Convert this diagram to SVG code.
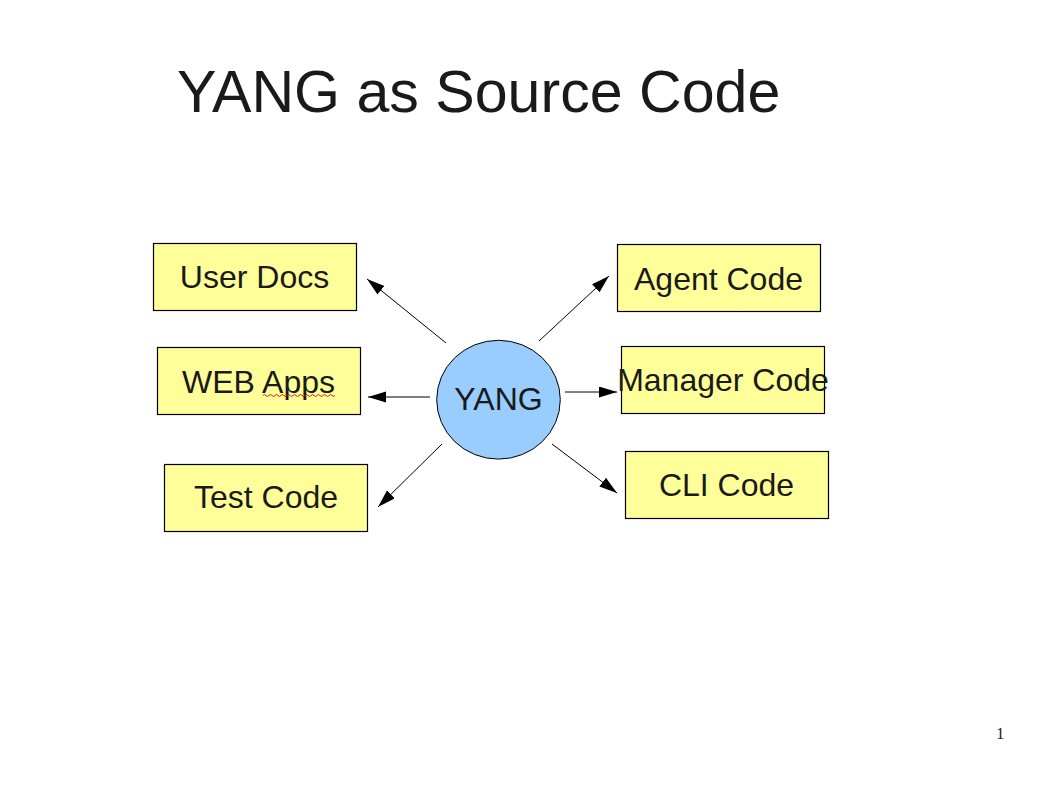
<svg xmlns="http://www.w3.org/2000/svg" width="1058" height="794" viewBox="0 0 1058 794">
<defs>
<style>
.box{fill:#ffff99;stroke:#000;stroke-width:1.2}
.lbl{font-family:"Liberation Sans",Arial,sans-serif;font-size:32px;fill:#1a1a1a;text-anchor:middle}
.conn{stroke:#000;stroke-width:1;fill:none}
</style>
<marker id="ah" markerUnits="userSpaceOnUse" markerWidth="19" markerHeight="12" refX="18" refY="5.5" orient="auto">
<path d="M0,0 L18,5.5 L0,11 z" fill="#000"/>
</marker>
</defs>
<rect width="1058" height="794" fill="#fff"/>
<text x="177" y="112" font-family="'Liberation Sans',Arial,sans-serif" font-size="59.1" fill="#1a1a1a">YANG as Source Code</text>
<g id="connectors">
<line class="conn" x1="446" y1="343" x2="367" y2="279" marker-end="url(#ah)"/>
<line class="conn" x1="430" y1="397" x2="368" y2="397" marker-end="url(#ah)"/>
<line class="conn" x1="442" y1="444" x2="378" y2="507" marker-end="url(#ah)"/>
<line class="conn" x1="539" y1="341" x2="609" y2="276" marker-end="url(#ah)"/>
<line class="conn" x1="565" y1="392" x2="617" y2="392" marker-end="url(#ah)"/>
<line class="conn" x1="552" y1="444" x2="617" y2="493" marker-end="url(#ah)"/>
</g>
<g id="yang">
<ellipse cx="498.5" cy="399.7" rx="61.8" ry="59.4" fill="#99ccff" stroke="#000" stroke-width="1"/>
<text class="lbl" x="498.5" y="410">YANG</text>
</g>
<g id="user-docs">
<rect class="box" x="153.5" y="243.5" width="203" height="67"/>
<text class="lbl" x="254.5" y="287.5">User Docs</text>
</g>
<g id="web-apps">
<rect class="box" x="157.5" y="347.5" width="203" height="67"/>
<text class="lbl" x="258.5" y="392.5">WEB Apps</text>
<path d="M263,395.5 q1.5,-2 3,0 t3,0 t3,0 t3,0 t3,0 t3,0 t3,0 t3,0 t3,0 t3,0 t3,0 t3,0 t3,0 t3,0 t3,0 t3,0 t3,0 t3,0 t3,0 t3,0 t3,0 t3,0 t3,0 t3,0" fill="none" stroke="#e00000" stroke-width="0.9"/>
</g>
<g id="test-code">
<rect class="box" x="164.5" y="464.5" width="203" height="67"/>
<text class="lbl" x="266" y="507.5">Test Code</text>
</g>
<g id="agent-code">
<rect class="box" x="617.5" y="244.5" width="203" height="67"/>
<text class="lbl" x="718.5" y="289.5">Agent Code</text>
</g>
<g id="manager-code">
<rect class="box" x="621.5" y="346.5" width="203" height="67"/>
<text class="lbl" x="723" y="391">Manager Code</text>
</g>
<g id="cli-code">
<rect class="box" x="625.5" y="451.5" width="203" height="67"/>
<text class="lbl" x="726.5" y="496">CLI Code</text>
</g>
<text x="996" y="739" font-family="'Liberation Serif','Times New Roman',serif" font-size="17" fill="#3a1a10">1</text>
</svg>
